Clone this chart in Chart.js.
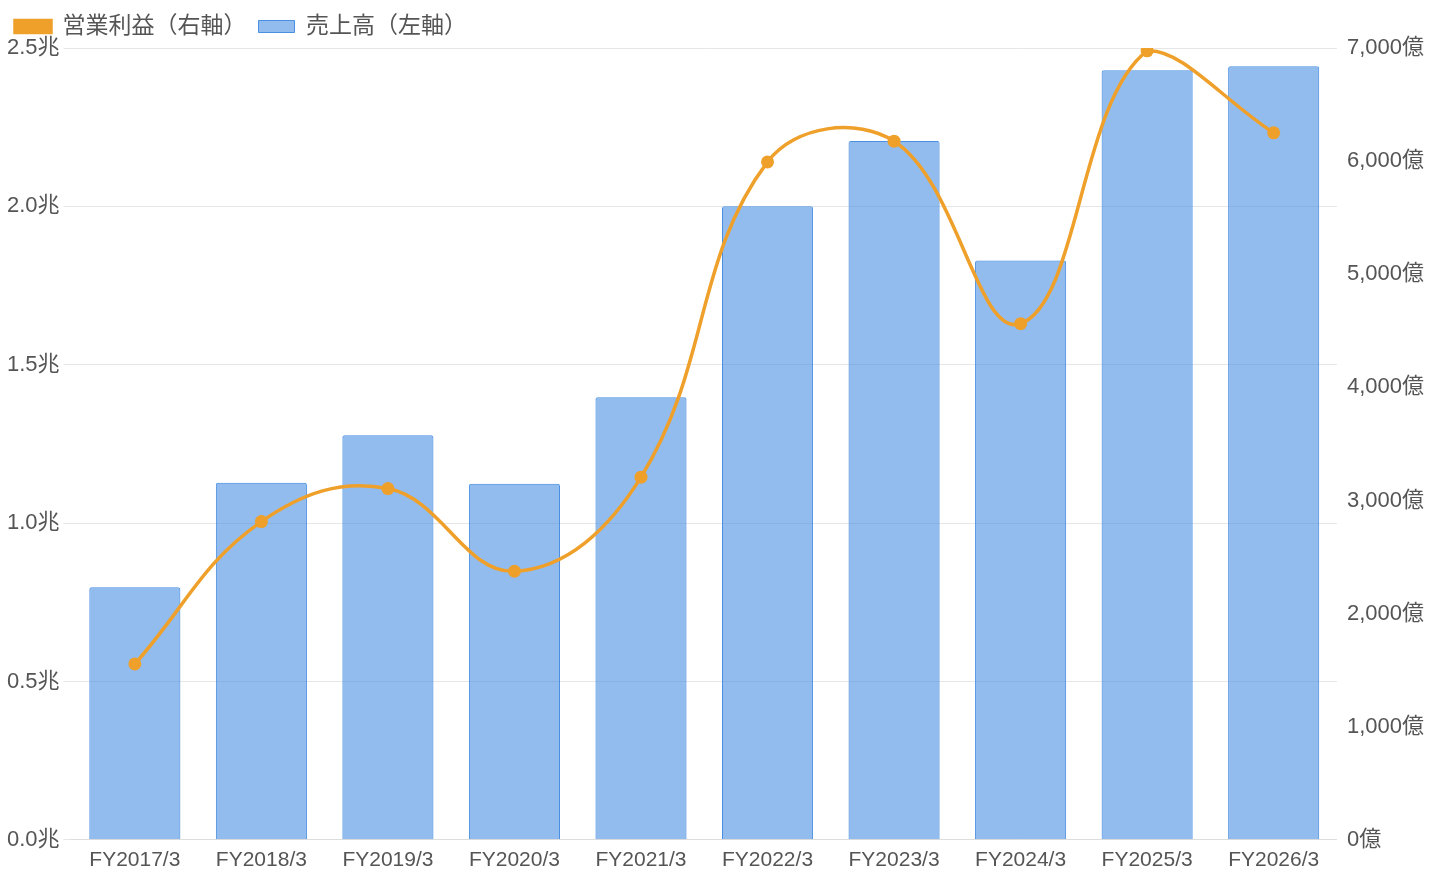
<!DOCTYPE html>
<html lang="ja">
<head>
<meta charset="utf-8">
<script src="https://cdn.jsdelivr.net/npm/chart.js@4.4.1/dist/chart.umd.min.js"></script>
<style>
  html, body { margin: 0; padding: 0; background: #fff; }
  #wrap { width: 1440px; height: 880px; }
</style>
</head>
<body>
<div id="wrap"><canvas id="chart"></canvas></div>
<script>
// 決算データ（売上高は兆円、営業利益は億円）
const labels = ['FY2017/3', 'FY2018/3', 'FY2019/3', 'FY2020/3', 'FY2021/3',
  'FY2022/3', 'FY2023/3', 'FY2024/3', 'FY2025/3', 'FY2026/3'];
const sales = [0.797, 1.127, 1.277, 1.124, 1.397, 2.0, 2.206, 1.829, 2.430, 2.442];
const opProfit = [1555, 2813, 3105, 2374, 3206, 5993, 6176, 4563, 6975, 6250];
const leftTicks = [0, 0.5, 1.0, 1.5, 2.0, 2.5];
const rightTicks = [0, 1000, 2000, 3000, 4000, 5000, 6000, 7000];

const ORANGE = '#EFA02B';
const FAMILY = "'Liberation Sans', 'Noto Sans CJK JP', sans-serif";
const font = { family: FAMILY, size: 21 };
const yFont = { family: FAMILY, size: 22 };

Chart.defaults.font.family = FAMILY;
Chart.defaults.color = '#555';

let ctx = document.getElementById('chart').getContext('2d');

let myChart = new Chart(ctx, {
  type: 'bar',
  data: {
    labels: labels,
    datasets: [{
      type: 'line',
      label: '営業利益（右軸）',
      data: opProfit,
      yAxisID: 'y1',
      borderColor: ORANGE,
      backgroundColor: ORANGE,
      borderWidth: 3.5,
      pointRadius: 6.5,
      pointBackgroundColor: ORANGE,
      pointBorderWidth: 0,
      tension: 0.4
    }, {
      type: 'bar',
      label: '売上高（左軸）',
      data: sales,
      yAxisID: 'y',
      backgroundColor: 'rgba(74,144,226,0.6)',
      borderColor: '#4A90E2',
      borderWidth: 1,
      borderRadius: 2,
      borderSkipped: 'bottom'
    }]
  },
  options: {
    responsive: true,
    maintainAspectRatio: false,
    animation: false,
    layout: { padding: { left: 3, right: 6, top: 3, bottom: 0 } },
    plugins: {
      legend: {
        position: 'top',
        align: 'start',
        labels: {
          boxWidth: 36,
          boxHeight: 12,
          padding: 12,
          font: { size: 23 },
          color: '#555'
        }
      },
      tooltip: { enabled: false }
    },
    scales: {
      x: {
        grid: { display: false, drawTicks: false },
        border: { color: '#ddd' },
        ticks: { font: font, color: '#555', padding: 7.5 }
      },
      y: {
        position: 'left',
        min: 0,
        max: 2.5,
        afterBuildTicks: (axis) => {
          axis.ticks = leftTicks.map(v => ({ value: v }));
        },
        grid: { color: '#e6e6e6', drawTicks: true, tickLength: 8 },
        border: { display: false },
        ticks: {
          font: yFont,
          color: '#555',
          padding: 4,
          callback: (v) => v.toFixed(1) + '兆'
        }
      },
      y1: {
        position: 'right',
        min: 0,
        max: 7000,
        afterBuildTicks: (axis) => {
          axis.ticks = rightTicks.map(v => ({ value: v }));
        },
        grid: { display: false, drawTicks: false },
        border: { display: false },
        ticks: {
          font: yFont,
          color: '#555',
          padding: 10,
          callback: (v) => v.toLocaleString('en-US') + '億'
        }
      }
    }
  }
});
</script>
</body>
</html>
